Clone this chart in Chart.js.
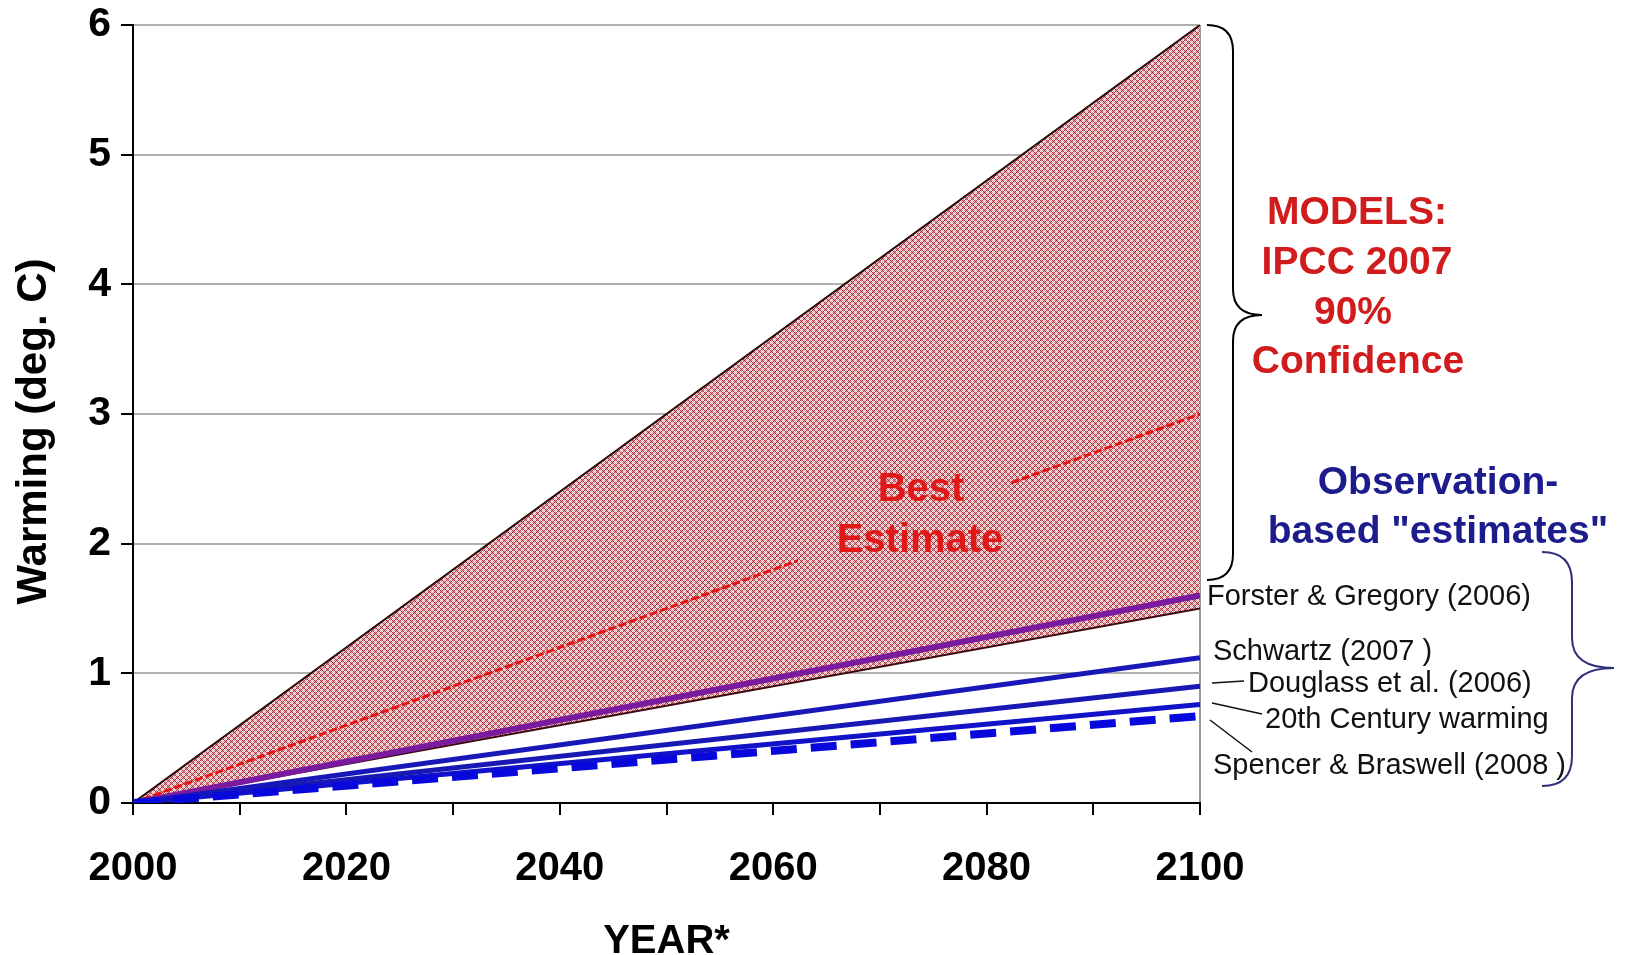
<!DOCTYPE html>
<html>
<head>
<meta charset="utf-8">
<title>Warming projections</title>
<script src="https://cdn.jsdelivr.net/npm/chart.js@4.4.1/dist/chart.umd.min.js"></script>
<style>
  html, body { margin: 0; padding: 0; background: #fff; }
  #box { width: 1625px; height: 955px; }
</style>
</head>
<body>
<div id="box"><canvas id="Chart" width="1625" height="955"></canvas></div>
<script>
// data (deg. C of warming at each year)
const years = [2000, 2100];
const upperBound = [0, 6];
const lowerBound = [0, 1.5];
const bestEstimate = [0, 3];
const forsterGregory = [0, 1.6];
const schwartz = [0, 1.12];
const douglass = [0, 0.9];
const twentiethCentury = [0, 0.76];
const spencerBraswell = [0, 0.67];

const yTicks = [0, 1, 2, 3, 4, 5, 6];

const FONT = '"Liberation Sans", Arial, sans-serif';

// red cross-hatch fill used for the model range
function makeHatch() {
  const c = document.createElement('canvas');
  c.width = 6; c.height = 6;
  const g = c.getContext('2d');
  const img = g.createImageData(6, 6);
  for (let y = 0; y < 6; y++) {
    for (let x = 0; x < 6; x++) {
      const u = (x + y) % 6, v = (x - y + 6) % 6;
      let col;
      if (u === 0 || v === 0) col = [170, 45, 58];
      else if (u === 3 || v === 3) col = [255, 248, 248];
      else col = [232, 165, 170];
      const i = (y * 6 + x) * 4;
      img.data[i] = col[0]; img.data[i + 1] = col[1]; img.data[i + 2] = col[2]; img.data[i + 3] = 255;
    }
  }
  g.putImageData(img, 0, 0);
  return document.getElementById('Chart').getContext('2d').createPattern(c, 'repeat');
}
const hatch = makeHatch();

const pts = arr => years.map((yr, i) => ({ x: yr, y: arr[i] }));

function line(label, arr, color, width, dash) {
  return {
    label, data: pts(arr),
    borderColor: color, borderWidth: width, borderDash: dash || [],
    pointRadius: 0, fill: false, tension: 0
  };
}

const data = {
  datasets: [
    line('Spencer & Braswell (2008)', spencerBraswell, '#0808dc', 8, [26, 14]),
    line('20th Century warming', twentiethCentury, '#1212c8', 5),
    line('Douglass et al. (2006)', douglass, '#1818b4', 5),
    line('Schwartz (2007)', schwartz, '#1818b8', 5),
    line('Forster & Gregory (2006)', forsterGregory, '#7a1a9e', 6),
    line('Lower bound', lowerBound, '#3a0a10', 2),
    line('Best Estimate', bestEstimate, '#e81212', 3, [8, 3]),
    Object.assign(line('Upper bound', upperBound, '#2a0a0a', 2), {
      fill: { target: 5 }, backgroundColor: hatch
    })
  ]
};

function brace(ctx, x0, top, bottom, tipX, tipY, r) {
  ctx.beginPath();
  ctx.moveTo(x0 - r, top);
  ctx.quadraticCurveTo(x0, top, x0, top + r);
  ctx.lineTo(x0, tipY - r);
  ctx.quadraticCurveTo(x0, tipY, tipX, tipY);
  ctx.quadraticCurveTo(x0, tipY, x0, tipY + r);
  ctx.lineTo(x0, bottom - r);
  ctx.quadraticCurveTo(x0, bottom, x0 - r, bottom);
  ctx.stroke();
}

// text box "Best Estimate" sits on the hatch and hides part of the dashed line
const bestLabel = {
  id: 'bestLabel',
  afterDatasetsDraw(chart) {
    const ctx = chart.ctx;
    ctx.save();
    ctx.fillStyle = hatch;
    ctx.fillRect(798, 455, 212, 110);
    ctx.fillStyle = '#e01818';
    ctx.font = 'bold 40px ' + FONT;
    ctx.textAlign = 'center';
    ctx.textBaseline = 'middle';
    ctx.fillText('Best', 921, 490);
    ctx.fillText('Estimate', 920, 541);
    ctx.restore();
  }
};

const notes = {
  id: 'notes',
  afterDraw(chart) {
    const ctx = chart.ctx;
    ctx.save();
    ctx.lineWidth = 2;
    ctx.strokeStyle = '#000';
    brace(ctx, 1233, 25, 580, 1262, 315, 26);
    ctx.strokeStyle = '#30307a';
    brace(ctx, 1572, 552, 786, 1614, 668, 30);

    ctx.textAlign = 'center';
    ctx.textBaseline = 'middle';
    ctx.font = 'bold 39px ' + FONT;
    ctx.fillStyle = '#d01c1c';
    ctx.fillText('MODELS:', 1357, 213);
    ctx.fillText('IPCC 2007', 1357, 263);
    ctx.fillText('90%', 1353, 313);
    ctx.fillText('Confidence', 1358, 362);

    ctx.fillStyle = '#1c1c8c';
    ctx.fillText('Observation-', 1438, 483);
    ctx.fillText('based "estimates"', 1438, 532);

    ctx.font = '29px ' + FONT;
    ctx.fillStyle = '#111';
    ctx.textAlign = 'left';
    ctx.fillText('Forster & Gregory (2006)', 1207, 597);
    ctx.fillText('Schwartz (2007 )', 1213, 652);
    ctx.fillText('Douglass et al. (2006)', 1248, 684);
    ctx.fillText('20th Century warming', 1265, 720);
    ctx.fillText('Spencer & Braswell (2008 )', 1213, 766);

    ctx.lineWidth = 1.5;
    ctx.strokeStyle = '#111';
    ctx.beginPath();
    ctx.moveTo(1212, 683); ctx.lineTo(1244, 681);
    ctx.moveTo(1212, 703); ctx.lineTo(1262, 714);
    ctx.moveTo(1210, 720); ctx.lineTo(1252, 752);
    ctx.stroke();
    ctx.restore();
  }
};

const config = {
  type: 'line',
  data,
  options: {
    responsive: false,
    animation: false,
    events: [],
    layout: { padding: { left: 0, right: 425, top: 25, bottom: 0 } },
    scales: {
      x: {
        type: 'linear',
        min: 2000, max: 2100,
        afterFit(scale) { scale.height = 152; },
        border: { color: '#000', width: 2 },
        grid: {
          color: c => (c.tick && c.tick.value === 2100 ? '#9a9a9a' : 'transparent'),
          lineWidth: 2,
          tickColor: '#000',
          tickLength: 12
        },
        ticks: {
          stepSize: 10,
          autoSkip: false,
          maxRotation: 0,
          padding: 30,
          color: '#000',
          font: { family: FONT, size: 40, weight: 'bold' },
          callback: v => (v % 20 === 0 ? String(v) : '')
        },
        title: {
          display: true,
          text: 'YEAR*',
          color: '#000',
          font: { family: FONT, size: 40, weight: 'bold', lineHeight: 0.65 },
          padding: { top: 0, bottom: 0 }
        }
      },
      y: {
        min: 0, max: 6,
        afterFit(scale) { scale.width = 133; },
        afterBuildTicks(scale) { scale.ticks = yTicks.map(v => ({ value: v })); },
        border: { color: '#000', width: 2 },
        grid: { color: '#b0b0b0', lineWidth: 2, tickColor: '#000', tickLength: 12 },
        ticks: {
          padding: 10,
          color: '#000',
          font: { family: FONT, size: 41, weight: 'bold', lineHeight: 0.7 }
        },
        title: {
          display: true,
          text: 'Warming (deg. C)   ',
          color: '#000',
          font: { family: FONT, size: 42, weight: 'bold', lineHeight: 1 },
          padding: { top: 13, bottom: 0 }
        }
      }
    },
    plugins: {
      legend: { display: false },
      tooltip: { enabled: false },
      filler: { propagate: false }
    }
  },
  plugins: [bestLabel, notes]
};

const myChart = new Chart(document.getElementById('Chart'), config);
</script>
</body>
</html>
